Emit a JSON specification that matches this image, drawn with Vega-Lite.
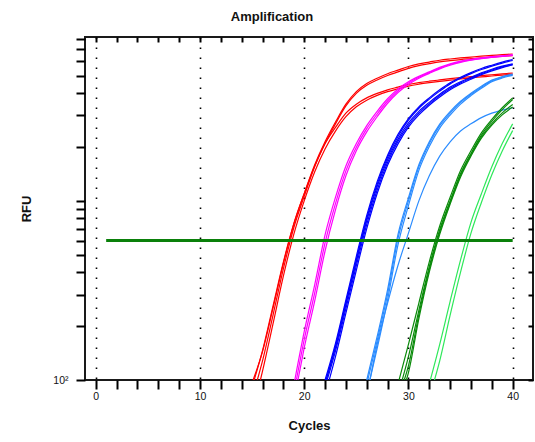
{
  "$schema": "https://vega.github.io/schema/vega-lite/v6.json",
  "autosize": {"type": "none"},
  "padding": {"left": 85, "top": 37, "right": 2, "bottom": 62},
  "width": 448,
  "height": 343,
  "background": "white",
  "title": {"text": "Amplification", "anchor": "middle", "frame": "group", "dx": -37, "offset": 12, "font": "Liberation Sans", "fontSize": 13, "fontWeight": "bold", "color": "#111"},
  "config": {
    "view": {"stroke": "#1a1a1a", "strokeWidth": 2}
  },
  "datasets": {
    "curves": [
      {"w":"R1","g":"red","c":15.1,"v":100},{"w":"R1","g":"red","c":16,"v":144},{"w":"R1","g":"red","c":17,"v":251},{"w":"R1","g":"red","c":18,"v":447},{"w":"R1","g":"red","c":19,"v":741},{"w":"R1","g":"red","c":20,"v":1096},{"w":"R1","g":"red","c":21,"v":1585},{"w":"R1","g":"red","c":22,"v":2138},{"w":"R1","g":"red","c":23,"v":2754},{"w":"R1","g":"red","c":24,"v":3467},{"w":"R1","g":"red","c":25,"v":4074},{"w":"R1","g":"red","c":26,"v":4519},{"w":"R1","g":"red","c":27,"v":4842},{"w":"R1","g":"red","c":28,"v":5129},{"w":"R1","g":"red","c":29,"v":5370},{"w":"R1","g":"red","c":30,"v":5623},{"w":"R1","g":"red","c":31,"v":5821},{"w":"R1","g":"red","c":32,"v":5957},{"w":"R1","g":"red","c":33,"v":6095},{"w":"R1","g":"red","c":34,"v":6194},{"w":"R1","g":"red","c":35,"v":6281},{"w":"R1","g":"red","c":36,"v":6353},{"w":"R1","g":"red","c":37,"v":6427},{"w":"R1","g":"red","c":38,"v":6486},{"w":"R1","g":"red","c":39,"v":6546},{"w":"R1","g":"red","c":40,"v":6607},
      {"w":"R2","g":"red","c":15.5,"v":100},{"w":"R2","g":"red","c":16,"v":128},{"w":"R2","g":"red","c":17,"v":229},{"w":"R2","g":"red","c":18,"v":417},{"w":"R2","g":"red","c":19,"v":708},{"w":"R2","g":"red","c":20,"v":1059},{"w":"R2","g":"red","c":21,"v":1549},{"w":"R2","g":"red","c":22,"v":2089},{"w":"R2","g":"red","c":23,"v":2692},{"w":"R2","g":"red","c":24,"v":3388},{"w":"R2","g":"red","c":25,"v":3981},{"w":"R2","g":"red","c":26,"v":4416},{"w":"R2","g":"red","c":27,"v":4732},{"w":"R2","g":"red","c":28,"v":5012},{"w":"R2","g":"red","c":29,"v":5248},{"w":"R2","g":"red","c":30,"v":5495},{"w":"R2","g":"red","c":31,"v":5689},{"w":"R2","g":"red","c":32,"v":5834},{"w":"R2","g":"red","c":33,"v":5970},{"w":"R2","g":"red","c":34,"v":6067},{"w":"R2","g":"red","c":35,"v":6153},{"w":"R2","g":"red","c":36,"v":6223},{"w":"R2","g":"red","c":37,"v":6295},{"w":"R2","g":"red","c":38,"v":6353},{"w":"R2","g":"red","c":39,"v":6412},{"w":"R2","g":"red","c":40,"v":6471},
      {"w":"R3","g":"red","c":15.2,"v":100},{"w":"R3","g":"red","c":16,"v":146},{"w":"R3","g":"red","c":17,"v":258},{"w":"R3","g":"red","c":18,"v":455},{"w":"R3","g":"red","c":19,"v":745},{"w":"R3","g":"red","c":20,"v":1098},{"w":"R3","g":"red","c":21,"v":1560},{"w":"R3","g":"red","c":22,"v":2089},{"w":"R3","g":"red","c":23,"v":2570},{"w":"R3","g":"red","c":24,"v":3090},{"w":"R3","g":"red","c":25,"v":3467},{"w":"R3","g":"red","c":26,"v":3758},{"w":"R3","g":"red","c":27,"v":3981},{"w":"R3","g":"red","c":28,"v":4169},{"w":"R3","g":"red","c":29,"v":4315},{"w":"R3","g":"red","c":30,"v":4467},{"w":"R3","g":"red","c":31,"v":4571},{"w":"R3","g":"red","c":32,"v":4656},{"w":"R3","g":"red","c":33,"v":4732},{"w":"R3","g":"red","c":34,"v":4808},{"w":"R3","g":"red","c":35,"v":4875},{"w":"R3","g":"red","c":36,"v":4943},{"w":"R3","g":"red","c":37,"v":5000},{"w":"R3","g":"red","c":38,"v":5058},{"w":"R3","g":"red","c":39,"v":5117},{"w":"R3","g":"red","c":40,"v":5176},
      {"w":"R4","g":"red","c":15.8,"v":100},{"w":"R4","g":"red","c":16,"v":112},{"w":"R4","g":"red","c":17,"v":205},{"w":"R4","g":"red","c":18,"v":380},{"w":"R4","g":"red","c":19,"v":650},{"w":"R4","g":"red","c":20,"v":1000},{"w":"R4","g":"red","c":21,"v":1450},{"w":"R4","g":"red","c":22,"v":1950},{"w":"R4","g":"red","c":23,"v":2450},{"w":"R4","g":"red","c":24,"v":2950},{"w":"R4","g":"red","c":25,"v":3350},{"w":"R4","g":"red","c":26,"v":3650},{"w":"R4","g":"red","c":27,"v":3880},{"w":"R4","g":"red","c":28,"v":4070},{"w":"R4","g":"red","c":29,"v":4220},{"w":"R4","g":"red","c":30,"v":4370},{"w":"R4","g":"red","c":31,"v":4480},{"w":"R4","g":"red","c":32,"v":4570},{"w":"R4","g":"red","c":33,"v":4650},{"w":"R4","g":"red","c":34,"v":4720},{"w":"R4","g":"red","c":35,"v":4790},{"w":"R4","g":"red","c":36,"v":4860},{"w":"R4","g":"red","c":37,"v":4920},{"w":"R4","g":"red","c":38,"v":4980},{"w":"R4","g":"red","c":39,"v":5040},{"w":"R4","g":"red","c":40,"v":5100},
      {"w":"M1","g":"magenta","c":19.1,"v":100},{"w":"M1","g":"magenta","c":20,"v":186},{"w":"M1","g":"magenta","c":21,"v":339},{"w":"M1","g":"magenta","c":22,"v":646},{"w":"M1","g":"magenta","c":23,"v":1047},{"w":"M1","g":"magenta","c":24,"v":1567},{"w":"M1","g":"magenta","c":25,"v":2089},{"w":"M1","g":"magenta","c":26,"v":2630},{"w":"M1","g":"magenta","c":27,"v":3162},{"w":"M1","g":"magenta","c":28,"v":3715},{"w":"M1","g":"magenta","c":29,"v":4217},{"w":"M1","g":"magenta","c":30,"v":4624},{"w":"M1","g":"magenta","c":31,"v":4955},{"w":"M1","g":"magenta","c":32,"v":5248},{"w":"M1","g":"magenta","c":33,"v":5559},{"w":"M1","g":"magenta","c":34,"v":5821},{"w":"M1","g":"magenta","c":35,"v":6026},{"w":"M1","g":"magenta","c":36,"v":6166},{"w":"M1","g":"magenta","c":37,"v":6281},{"w":"M1","g":"magenta","c":38,"v":6383},{"w":"M1","g":"magenta","c":39,"v":6457},{"w":"M1","g":"magenta","c":40,"v":6531},
      {"w":"M2","g":"magenta","c":19.4,"v":100},{"w":"M2","g":"magenta","c":20,"v":151},{"w":"M2","g":"magenta","c":21,"v":275},{"w":"M2","g":"magenta","c":22,"v":525},{"w":"M2","g":"magenta","c":23,"v":891},{"w":"M2","g":"magenta","c":24,"v":1380},{"w":"M2","g":"magenta","c":25,"v":1905},{"w":"M2","g":"magenta","c":26,"v":2427},{"w":"M2","g":"magenta","c":27,"v":2951},{"w":"M2","g":"magenta","c":28,"v":3508},{"w":"M2","g":"magenta","c":29,"v":4027},{"w":"M2","g":"magenta","c":30,"v":4467},{"w":"M2","g":"magenta","c":31,"v":4842},{"w":"M2","g":"magenta","c":32,"v":5152},{"w":"M2","g":"magenta","c":33,"v":5458},{"w":"M2","g":"magenta","c":34,"v":5715},{"w":"M2","g":"magenta","c":35,"v":5929},{"w":"M2","g":"magenta","c":36,"v":6095},{"w":"M2","g":"magenta","c":37,"v":6223},{"w":"M2","g":"magenta","c":38,"v":6324},{"w":"M2","g":"magenta","c":39,"v":6412},{"w":"M2","g":"magenta","c":40,"v":6486},
      {"w":"M3","g":"magenta","c":19.25,"v":100},{"w":"M3","g":"magenta","c":20,"v":168},{"w":"M3","g":"magenta","c":21,"v":305},{"w":"M3","g":"magenta","c":22,"v":583},{"w":"M3","g":"magenta","c":23,"v":966},{"w":"M3","g":"magenta","c":24,"v":1470},{"w":"M3","g":"magenta","c":25,"v":1995},{"w":"M3","g":"magenta","c":26,"v":2530},{"w":"M3","g":"magenta","c":27,"v":3055},{"w":"M3","g":"magenta","c":28,"v":3610},{"w":"M3","g":"magenta","c":29,"v":4120},{"w":"M3","g":"magenta","c":30,"v":4545},{"w":"M3","g":"magenta","c":31,"v":4900},{"w":"M3","g":"magenta","c":32,"v":5200},{"w":"M3","g":"magenta","c":33,"v":5510},{"w":"M3","g":"magenta","c":34,"v":5770},{"w":"M3","g":"magenta","c":35,"v":5980},{"w":"M3","g":"magenta","c":36,"v":6130},{"w":"M3","g":"magenta","c":37,"v":6250},{"w":"M3","g":"magenta","c":38,"v":6350},{"w":"M3","g":"magenta","c":39,"v":6435},{"w":"M3","g":"magenta","c":40,"v":6510},
      {"w":"B1","g":"blue","c":22.1,"v":100},{"w":"B1","g":"blue","c":23,"v":151},{"w":"B1","g":"blue","c":24,"v":263},{"w":"B1","g":"blue","c":25,"v":457},{"w":"B1","g":"blue","c":26,"v":776},{"w":"B1","g":"blue","c":27,"v":1202},{"w":"B1","g":"blue","c":28,"v":1698},{"w":"B1","g":"blue","c":29,"v":2213},{"w":"B1","g":"blue","c":30,"v":2723},{"w":"B1","g":"blue","c":31,"v":3162},{"w":"B1","g":"blue","c":32,"v":3548},{"w":"B1","g":"blue","c":33,"v":3936},{"w":"B1","g":"blue","c":34,"v":4315},{"w":"B1","g":"blue","c":35,"v":4624},{"w":"B1","g":"blue","c":36,"v":4898},{"w":"B1","g":"blue","c":37,"v":5188},{"w":"B1","g":"blue","c":38,"v":5433},{"w":"B1","g":"blue","c":39,"v":5649},{"w":"B1","g":"blue","c":40,"v":5821},
      {"w":"B2","g":"blue","c":22.0,"v":100},{"w":"B2","g":"blue","c":23,"v":160},{"w":"B2","g":"blue","c":24,"v":280},{"w":"B2","g":"blue","c":25,"v":490},{"w":"B2","g":"blue","c":26,"v":830},{"w":"B2","g":"blue","c":27,"v":1280},{"w":"B2","g":"blue","c":28,"v":1800},{"w":"B2","g":"blue","c":29,"v":2350},{"w":"B2","g":"blue","c":30,"v":2880},{"w":"B2","g":"blue","c":31,"v":3350},{"w":"B2","g":"blue","c":32,"v":3760},{"w":"B2","g":"blue","c":33,"v":4170},{"w":"B2","g":"blue","c":34,"v":4570},{"w":"B2","g":"blue","c":35,"v":4900},{"w":"B2","g":"blue","c":36,"v":5200},{"w":"B2","g":"blue","c":37,"v":5480},{"w":"B2","g":"blue","c":38,"v":5720},{"w":"B2","g":"blue","c":39,"v":5950},{"w":"B2","g":"blue","c":40,"v":6150},
      {"w":"B3","g":"blue","c":22.4,"v":100},{"w":"B3","g":"blue","c":23,"v":135},{"w":"B3","g":"blue","c":24,"v":236},{"w":"B3","g":"blue","c":25,"v":410},{"w":"B3","g":"blue","c":26,"v":700},{"w":"B3","g":"blue","c":27,"v":1100},{"w":"B3","g":"blue","c":28,"v":1580},{"w":"B3","g":"blue","c":29,"v":2080},{"w":"B3","g":"blue","c":30,"v":2580},{"w":"B3","g":"blue","c":31,"v":3020},{"w":"B3","g":"blue","c":32,"v":3420},{"w":"B3","g":"blue","c":33,"v":3800},{"w":"B3","g":"blue","c":34,"v":4170},{"w":"B3","g":"blue","c":35,"v":4490},{"w":"B3","g":"blue","c":36,"v":4780},{"w":"B3","g":"blue","c":37,"v":5070},{"w":"B3","g":"blue","c":38,"v":5320},{"w":"B3","g":"blue","c":39,"v":5550},{"w":"B3","g":"blue","c":40,"v":5740},
      {"w":"B4","g":"blue","c":22.2,"v":100},{"w":"B4","g":"blue","c":23,"v":145},{"w":"B4","g":"blue","c":24,"v":250},{"w":"B4","g":"blue","c":25,"v":435},{"w":"B4","g":"blue","c":26,"v":740},{"w":"B4","g":"blue","c":27,"v":1150},{"w":"B4","g":"blue","c":28,"v":1640},{"w":"B4","g":"blue","c":29,"v":2150},{"w":"B4","g":"blue","c":30,"v":2650},{"w":"B4","g":"blue","c":31,"v":3090},{"w":"B4","g":"blue","c":32,"v":3480},{"w":"B4","g":"blue","c":33,"v":3870},{"w":"B4","g":"blue","c":34,"v":4240},{"w":"B4","g":"blue","c":35,"v":4560},{"w":"B4","g":"blue","c":36,"v":4840},{"w":"B4","g":"blue","c":37,"v":5130},{"w":"B4","g":"blue","c":38,"v":5380},{"w":"B4","g":"blue","c":39,"v":5600},{"w":"B4","g":"blue","c":40,"v":5780},
      {"w":"B5","g":"blue","c":22.1,"v":100},{"w":"B5","g":"blue","c":23,"v":155},{"w":"B5","g":"blue","c":24,"v":270},{"w":"B5","g":"blue","c":25,"v":470},{"w":"B5","g":"blue","c":26,"v":800},{"w":"B5","g":"blue","c":27,"v":1240},{"w":"B5","g":"blue","c":28,"v":1750},{"w":"B5","g":"blue","c":29,"v":2290},{"w":"B5","g":"blue","c":30,"v":2820},{"w":"B5","g":"blue","c":31,"v":3290},{"w":"B5","g":"blue","c":32,"v":3700},{"w":"B5","g":"blue","c":33,"v":4100},{"w":"B5","g":"blue","c":34,"v":4500},{"w":"B5","g":"blue","c":35,"v":4830},{"w":"B5","g":"blue","c":36,"v":5130},{"w":"B5","g":"blue","c":37,"v":5410},{"w":"B5","g":"blue","c":38,"v":5650},{"w":"B5","g":"blue","c":39,"v":5880},{"w":"B5","g":"blue","c":40,"v":6080},
      {"w":"L1","g":"lightblue","c":26.1,"v":100},{"w":"L1","g":"lightblue","c":27,"v":166},{"w":"L1","g":"lightblue","c":28,"v":302},{"w":"L1","g":"lightblue","c":29,"v":617},{"w":"L1","g":"lightblue","c":30,"v":1000},{"w":"L1","g":"lightblue","c":31,"v":1549},{"w":"L1","g":"lightblue","c":32,"v":2089},{"w":"L1","g":"lightblue","c":33,"v":2630},{"w":"L1","g":"lightblue","c":34,"v":3090},{"w":"L1","g":"lightblue","c":35,"v":3548},{"w":"L1","g":"lightblue","c":36,"v":3936},{"w":"L1","g":"lightblue","c":37,"v":4315},{"w":"L1","g":"lightblue","c":38,"v":4677},{"w":"L1","g":"lightblue","c":39,"v":4898},{"w":"L1","g":"lightblue","c":40,"v":5070},
      {"w":"L2","g":"lightblue","c":26.3,"v":100},{"w":"L2","g":"lightblue","c":27,"v":150},{"w":"L2","g":"lightblue","c":28,"v":280},{"w":"L2","g":"lightblue","c":29,"v":570},{"w":"L2","g":"lightblue","c":30,"v":940},{"w":"L2","g":"lightblue","c":31,"v":1480},{"w":"L2","g":"lightblue","c":32,"v":2010},{"w":"L2","g":"lightblue","c":33,"v":2550},{"w":"L2","g":"lightblue","c":34,"v":3010},{"w":"L2","g":"lightblue","c":35,"v":3470},{"w":"L2","g":"lightblue","c":36,"v":3870},{"w":"L2","g":"lightblue","c":37,"v":4250},{"w":"L2","g":"lightblue","c":38,"v":4620},{"w":"L2","g":"lightblue","c":39,"v":4850},{"w":"L2","g":"lightblue","c":40,"v":5020},
      {"w":"L3","g":"lightblue","c":26.0,"v":100},{"w":"L3","g":"lightblue","c":27,"v":175},{"w":"L3","g":"lightblue","c":28,"v":320},{"w":"L3","g":"lightblue","c":29,"v":650},{"w":"L3","g":"lightblue","c":30,"v":1040},{"w":"L3","g":"lightblue","c":31,"v":1590},{"w":"L3","g":"lightblue","c":32,"v":2140},{"w":"L3","g":"lightblue","c":33,"v":2680},{"w":"L3","g":"lightblue","c":34,"v":3150},{"w":"L3","g":"lightblue","c":35,"v":3600},{"w":"L3","g":"lightblue","c":36,"v":3990},{"w":"L3","g":"lightblue","c":37,"v":4370},{"w":"L3","g":"lightblue","c":38,"v":4720},{"w":"L3","g":"lightblue","c":39,"v":4940},{"w":"L3","g":"lightblue","c":40,"v":5110},
      {"w":"L4","g":"lightblue","c":26.3,"v":100},{"w":"L4","g":"lightblue","c":27,"v":158},{"w":"L4","g":"lightblue","c":28,"v":269},{"w":"L4","g":"lightblue","c":29,"v":437},{"w":"L4","g":"lightblue","c":30,"v":661},{"w":"L4","g":"lightblue","c":31,"v":1000},{"w":"L4","g":"lightblue","c":32,"v":1380},{"w":"L4","g":"lightblue","c":33,"v":1778},{"w":"L4","g":"lightblue","c":34,"v":2138},{"w":"L4","g":"lightblue","c":35,"v":2455},{"w":"L4","g":"lightblue","c":36,"v":2692},{"w":"L4","g":"lightblue","c":37,"v":2917},{"w":"L4","g":"lightblue","c":38,"v":3090},{"w":"L4","g":"lightblue","c":39,"v":3214},{"w":"L4","g":"lightblue","c":40,"v":3311},
      {"w":"D1","g":"darkgreen","c":29.1,"v":100},{"w":"D1","g":"darkgreen","c":30,"v":158},{"w":"D1","g":"darkgreen","c":31,"v":269},{"w":"D1","g":"darkgreen","c":32,"v":457},{"w":"D1","g":"darkgreen","c":33,"v":724},{"w":"D1","g":"darkgreen","c":34,"v":1047},{"w":"D1","g":"darkgreen","c":35,"v":1479},{"w":"D1","g":"darkgreen","c":36,"v":1905},{"w":"D1","g":"darkgreen","c":37,"v":2399},{"w":"D1","g":"darkgreen","c":38,"v":2851},{"w":"D1","g":"darkgreen","c":39,"v":3311},{"w":"D1","g":"darkgreen","c":40,"v":3758},
      {"w":"D2","g":"darkgreen","c":29.8,"v":100},{"w":"D2","g":"darkgreen","c":30,"v":110},{"w":"D2","g":"darkgreen","c":31,"v":220},{"w":"D2","g":"darkgreen","c":32,"v":400},{"w":"D2","g":"darkgreen","c":33,"v":650},{"w":"D2","g":"darkgreen","c":34,"v":960},{"w":"D2","g":"darkgreen","c":35,"v":1360},{"w":"D2","g":"darkgreen","c":36,"v":1780},{"w":"D2","g":"darkgreen","c":37,"v":2240},{"w":"D2","g":"darkgreen","c":38,"v":2650},{"w":"D2","g":"darkgreen","c":39,"v":3020},{"w":"D2","g":"darkgreen","c":40,"v":3340},
      {"w":"D3","g":"darkgreen","c":29.4,"v":100},{"w":"D3","g":"darkgreen","c":30,"v":135},{"w":"D3","g":"darkgreen","c":31,"v":245},{"w":"D3","g":"darkgreen","c":32,"v":430},{"w":"D3","g":"darkgreen","c":33,"v":690},{"w":"D3","g":"darkgreen","c":34,"v":1000},{"w":"D3","g":"darkgreen","c":35,"v":1420},{"w":"D3","g":"darkgreen","c":36,"v":1840},{"w":"D3","g":"darkgreen","c":37,"v":2330},{"w":"D3","g":"darkgreen","c":38,"v":2780},{"w":"D3","g":"darkgreen","c":39,"v":3230},{"w":"D3","g":"darkgreen","c":40,"v":3680},
      {"w":"D4","g":"darkgreen","c":29.6,"v":100},{"w":"D4","g":"darkgreen","c":30,"v":120},{"w":"D4","g":"darkgreen","c":31,"v":232},{"w":"D4","g":"darkgreen","c":32,"v":415},{"w":"D4","g":"darkgreen","c":33,"v":670},{"w":"D4","g":"darkgreen","c":34,"v":980},{"w":"D4","g":"darkgreen","c":35,"v":1390},{"w":"D4","g":"darkgreen","c":36,"v":1810},{"w":"D4","g":"darkgreen","c":37,"v":2280},{"w":"D4","g":"darkgreen","c":38,"v":2700},{"w":"D4","g":"darkgreen","c":39,"v":3100},{"w":"D4","g":"darkgreen","c":40,"v":3450},
      {"w":"G1","g":"lightgreen","c":32.1,"v":100},{"w":"G1","g":"lightgreen","c":33,"v":158},{"w":"G1","g":"lightgreen","c":34,"v":275},{"w":"G1","g":"lightgreen","c":35,"v":468},{"w":"G1","g":"lightgreen","c":36,"v":759},{"w":"G1","g":"lightgreen","c":37,"v":1096},{"w":"G1","g":"lightgreen","c":38,"v":1549},{"w":"G1","g":"lightgreen","c":39,"v":2089},{"w":"G1","g":"lightgreen","c":40,"v":2692},
      {"w":"G2","g":"lightgreen","c":32.5,"v":100},{"w":"G2","g":"lightgreen","c":33,"v":128},{"w":"G2","g":"lightgreen","c":34,"v":230},{"w":"G2","g":"lightgreen","c":35,"v":400},{"w":"G2","g":"lightgreen","c":36,"v":660},{"w":"G2","g":"lightgreen","c":37,"v":980},{"w":"G2","g":"lightgreen","c":38,"v":1400},{"w":"G2","g":"lightgreen","c":39,"v":1900},{"w":"G2","g":"lightgreen","c":40,"v":2470}
    ],
    "threshold": [{"c": 1, "v": 600}, {"c": 40, "v": 600}]
  },
  "layer": [
    {
      "data": {"name": "curves"},
      "mark": {"type": "line", "clip": true, "strokeWidth": 1.2, "interpolate": "monotone"},
      "encoding": {
        "x": {"field": "c", "type": "quantitative",
          "scale": {"domain": [-1.03, 41.95], "nice": false, "zero": false},
          "axis": {"orient": "bottom", "values": [0,2,4,6,8,10,12,14,16,18,20,22,24,26,28,30,32,34,36,38,40],
            "labelExpr": "datum.value % 10 === 0 ? datum.label : ''",
            "labelFont": "Liberation Sans", "labelColor": "#111", "labelFontSize": 10.5, "labelPadding": 2,
            "domain": false, "ticks": true,
            "tickSize": 9, "tickWidth": 2, "tickColor": "black",
            "grid": true, "gridColor": "#000", "gridDash": [1.6, 8.4], "gridWidth": 1.6,
            "gridOpacity": {"condition": {"test": "datum.value % 10 === 0", "value": 1}, "value": 0},
            "title": "Cycles", "titleFont": "Liberation Sans", "titleColor": "#111", "titleFontSize": 13, "titleFontWeight": "bold", "titlePadding": 18}},
        "y": {"field": "v", "type": "quantitative",
          "scale": {"type": "log", "domain": [100, 8220], "nice": false},
          "axis": {"orient": "left", "values": [100,200,300,400,500,600,700,800,900,1000,2000,3000,4000,5000,6000,7000,8000],
            "labelExpr": "datum.value === 100 ? '10²' : ''",
            "labelFont": "Liberation Sans", "labelColor": "#111", "labelFontSize": 10.5, "labelPadding": 8,
            "domain": false, "grid": false, "ticks": true,
            "tickSize": 9, "tickWidth": 2, "tickColor": "black",
            "title": "RFU", "titleFont": "Liberation Sans", "titleColor": "#111", "titleFontSize": 13, "titleFontWeight": "bold", "titlePadding": 19}},
        "color": {"field": "g", "type": "nominal", "legend": null,
          "scale": {"domain": ["red","magenta","blue","lightblue","darkgreen","lightgreen"],
                    "range": ["#ff0000","#ff00ff","#0000ff","#2b8cff","#0a8a0a","#2ee85a"]}},
        "detail": {"field": "w", "type": "nominal"}
      }
    },
    {
      "data": {"name": "threshold"},
      "mark": {"type": "line", "color": "#0a800a", "strokeWidth": 3, "clip": true},
      "encoding": {
        "x": {"field": "c", "type": "quantitative",
          "axis": {"orient": "top", "values": [0,2,4,6,8,10,12,14,16,18,20,22,24,26,28,30,32,34,36,38,40],
            "labels": false, "domain": false, "grid": false, "title": null, "ticks": true,
            "tickSize": -5, "tickWidth": 2, "tickColor": "black"}},
        "y": {"field": "v", "type": "quantitative",
          "axis": {"orient": "right", "values": [100,200,300,400,500,600,700,800,900,1000,2000,3000,4000,5000,6000,7000,8000],
            "labels": false, "domain": false, "grid": false, "title": null, "ticks": true,
            "tickSize": -5, "tickWidth": 2, "tickColor": "black"}}
      }
    }
  ],
  "resolve": {"axis": {"x": "independent", "y": "independent"}}
}
